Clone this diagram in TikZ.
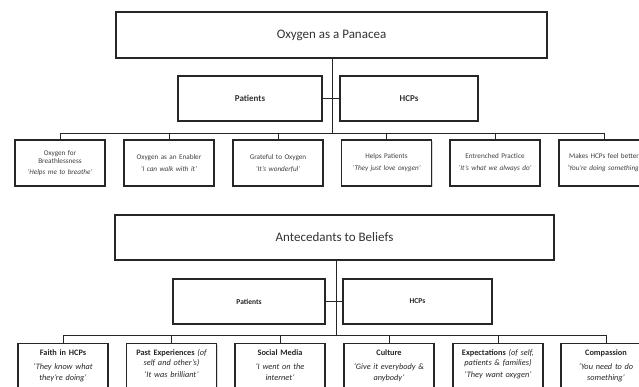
\documentclass[tikz,border=0pt]{standalone}
\usepackage{fontspec}
\setmainfont{Carlito}
\usetikzlibrary{shadows}
\begin{document}
\begin{tikzpicture}[x=1pt,y=-1pt,
  box/.style={draw=black!85, line width=1.3pt, fill=white, inner sep=1pt, align=center,
    drop shadow={opacity=0.3, shadow xshift=1.3pt, shadow yshift=-1.3pt}},
  bigbox/.style={box, font=\fontsize{13}{15}\selectfont, text=black!80},
  midbox/.style={box, font=\bfseries\fontsize{9}{11}\selectfont, text=black!80},
  midboxs/.style={box, font=\bfseries\fontsize{7.5}{9}\selectfont, text=black!85},
  leafa/.style={box, minimum width=90pt, minimum height=46pt, text width=88pt,
    font=\fontsize{7.2}{8}\selectfont, text=black!75},
  leafb/.style={box, minimum width=90pt, minimum height=60pt, anchor=north},
  leaftxt/.style={anchor=north, align=center, text width=88pt, inner sep=0pt,
    font=\fontsize{8.3}{10.5}\selectfont, text=black!85},
  conn/.style={draw=black!85, line width=0.9pt}]
\clip (0,0) rectangle (639,387);
\fill[white] (0,0) rectangle (639,387);

% ---------- Oxygen as a Panacea ----------
\node[bigbox, minimum width=431pt, minimum height=46pt] (top) at (331.5,35) {Oxygen as a Panacea};
\node[midbox, minimum width=144pt, minimum height=45pt] (p1) at (250,98.5) {Patients};
\node[midbox, minimum width=138pt, minimum height=45pt] (h1) at (409,98.5) {HCPs};

\node[leafa] (a1) at (60,163) {Oxygen for\\Breathlessness\\[3pt]\textit{‘Helps me to breathe’}};
\node[leafa] (a2) at (169,163) {Oxygen as an Enabler\\[4pt]\textit{‘I can walk with it’}};
\node[leafa] (a3) at (278,163) {Grateful to Oxygen\\[4pt]\textit{‘It’s wonderful’}};
\node[leafa] (a4) at (386.5,163) {Helps Patients\\[4pt]\textit{‘They just love oxygen’}};
\node[leafa] (a5) at (495,163) {Entrenched Practice\\[4pt]\textit{‘It’s what we always do’}};
\node[leafa] (a6) at (604,163) {Makes HCPs feel better\\[4pt]\textit{‘You’re doing something’}};

\coordinate (j1) at (332,133);
\draw[conn] (top.south -| j1) -- (j1);
\draw[conn] (p1.east) -- (h1.west);
\draw[conn] (a1.north |- j1) -- (a6.north |- j1);
\foreach \n in {a1,a2,a3,a4,a5,a6} \draw[conn] (\n.north |- j1) -- (\n.north);

% ---------- Antecedants to Beliefs ----------
\node[bigbox, minimum width=439pt, minimum height=45pt] (top2) at (334.5,237.5) {Antecedants to Beliefs};
\node[midboxs, minimum width=152pt, minimum height=45pt] (p2) at (249,301.5) {Patients};
\node[midboxs, minimum width=149pt, minimum height=45pt] (h2) at (417.5,301.5) {HCPs};

\node[leafb] (b1) at (63,343) {};
\node[leafb] (b2) at (171.5,343) {};
\node[leafb] (b3) at (280,343) {};
\node[leafb] (b4) at (389,343) {};
\node[leafb] (b5) at (498,343) {};
\node[leafb] (b6) at (606,343) {};

\node[leaftxt] (t1) at ([yshift=-6pt]b1.north) {\textbf{Faith in HCPs}\\[4pt]\textit{‘They know what\\they’re doing’}};
\node[leaftxt] (t2) at ([yshift=-6pt]b2.north) {\textbf{Past Experiences} \textit{(of\\self and other’s)}\\[1pt]\textit{‘It was brilliant’}};
\node[leaftxt] (t3) at ([yshift=-6pt]b3.north) {\textbf{Social Media}\\[4pt]\textit{‘I went on the\\internet’}};
\node[leaftxt] (t4) at ([yshift=-6pt]b4.north) {\textbf{Culture}\\[4pt]\textit{‘Give it everybody \&\\anybody’}};
\node[leaftxt] (t5) at ([yshift=-6pt]b5.north) {\textbf{Expectations} \textit{(of self,\\patients \& families)}\\[1pt]\textit{‘They want oxygen’}};
\node[leaftxt] (t6) at ([yshift=-6pt]b6.north) {\textbf{Compassion}\\[4pt]\textit{‘You need to do\\something’}};

\coordinate (j2) at (336,335);
\draw[conn] (top2.south -| j2) -- (j2);
\draw[conn] (p2.east) -- (h2.west);
\draw[conn] (b1.north |- j2) -- (b6.north |- j2);
\foreach \n in {b1,b2,b3,b4,b5,b6} \draw[conn] (\n.north |- j2) -- (\n.north);
\end{tikzpicture}
\end{document}
